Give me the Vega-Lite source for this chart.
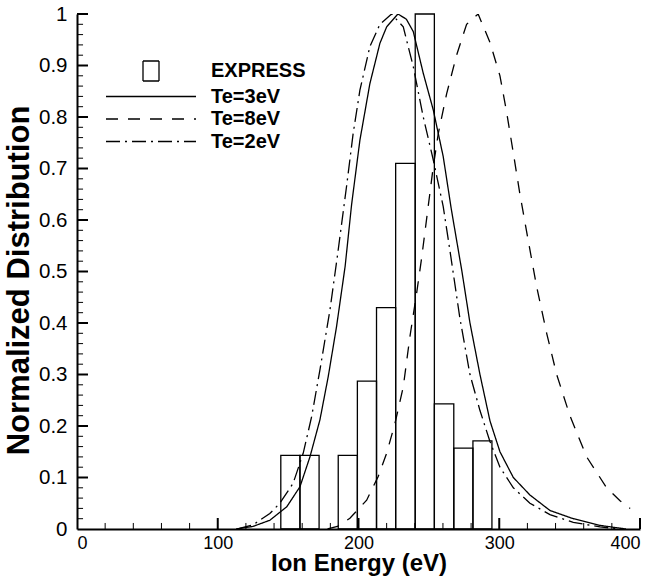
{
  "$schema": "https://vega.github.io/schema/vega-lite/v6.json",
  "width": 563,
  "height": 515,
  "autosize": {"type": "none"},
  "padding": {"left": 77, "top": 14, "right": 19, "bottom": 54},
  "background": "white",
  "config": {
    "view": {"stroke": null},
    "font": "Liberation Sans",
    "axis": {"grid": false, "domainColor": "black", "domainWidth": 2, "tickColor": "black", "labelColor": "black", "titleColor": "black", "labelFont": "Liberation Sans", "titleFont": "Liberation Sans"}
  },
  "datasets": {
    "curves": [
      {"series": "Te=3eV", "energy": 113, "value": 0},
      {"series": "Te=3eV", "energy": 125, "value": 0.005},
      {"series": "Te=3eV", "energy": 137, "value": 0.017},
      {"series": "Te=3eV", "energy": 149, "value": 0.043},
      {"series": "Te=3eV", "energy": 158.4, "value": 0.082},
      {"series": "Te=3eV", "energy": 165.5, "value": 0.14},
      {"series": "Te=3eV", "energy": 172.6, "value": 0.212},
      {"series": "Te=3eV", "energy": 178.5, "value": 0.296},
      {"series": "Te=3eV", "energy": 184.4, "value": 0.393},
      {"series": "Te=3eV", "energy": 190.5, "value": 0.51},
      {"series": "Te=3eV", "energy": 195.1, "value": 0.63},
      {"series": "Te=3eV", "energy": 201, "value": 0.755},
      {"series": "Te=3eV", "energy": 208.1, "value": 0.865},
      {"series": "Te=3eV", "energy": 215.2, "value": 0.943},
      {"series": "Te=3eV", "energy": 220, "value": 0.975},
      {"series": "Te=3eV", "energy": 228, "value": 1.0},
      {"series": "Te=3eV", "energy": 234, "value": 0.99},
      {"series": "Te=3eV", "energy": 238.9, "value": 0.966},
      {"series": "Te=3eV", "energy": 246, "value": 0.885},
      {"series": "Te=3eV", "energy": 253.1, "value": 0.814},
      {"series": "Te=3eV", "energy": 260.2, "value": 0.723},
      {"series": "Te=3eV", "energy": 266, "value": 0.62},
      {"series": "Te=3eV", "energy": 273.5, "value": 0.5},
      {"series": "Te=3eV", "energy": 279.2, "value": 0.4},
      {"series": "Te=3eV", "energy": 286.3, "value": 0.3},
      {"series": "Te=3eV", "energy": 293.4, "value": 0.21},
      {"series": "Te=3eV", "energy": 300.5, "value": 0.15},
      {"series": "Te=3eV", "energy": 310, "value": 0.1},
      {"series": "Te=3eV", "energy": 321.8, "value": 0.066},
      {"series": "Te=3eV", "energy": 336, "value": 0.036},
      {"series": "Te=3eV", "energy": 352.6, "value": 0.02},
      {"series": "Te=3eV", "energy": 371.6, "value": 0.007},
      {"series": "Te=3eV", "energy": 390, "value": 0},
      {"series": "Te=2eV", "energy": 114, "value": 0},
      {"series": "Te=2eV", "energy": 125, "value": 0.008},
      {"series": "Te=2eV", "energy": 137, "value": 0.03},
      {"series": "Te=2eV", "energy": 144.1, "value": 0.05},
      {"series": "Te=2eV", "energy": 153.6, "value": 0.089},
      {"series": "Te=2eV", "energy": 160.7, "value": 0.147},
      {"series": "Te=2eV", "energy": 166.7, "value": 0.218},
      {"series": "Te=2eV", "energy": 172.6, "value": 0.309},
      {"series": "Te=2eV", "energy": 179.7, "value": 0.425},
      {"series": "Te=2eV", "energy": 185, "value": 0.53},
      {"series": "Te=2eV", "energy": 191.5, "value": 0.665},
      {"series": "Te=2eV", "energy": 196.2, "value": 0.768},
      {"series": "Te=2eV", "energy": 201, "value": 0.852},
      {"series": "Te=2eV", "energy": 208.1, "value": 0.937},
      {"series": "Te=2eV", "energy": 215.2, "value": 0.98},
      {"series": "Te=2eV", "energy": 223.5, "value": 1.0},
      {"series": "Te=2eV", "energy": 231.8, "value": 0.975},
      {"series": "Te=2eV", "energy": 238.9, "value": 0.898},
      {"series": "Te=2eV", "energy": 246, "value": 0.8},
      {"series": "Te=2eV", "energy": 253.1, "value": 0.717},
      {"series": "Te=2eV", "energy": 260.2, "value": 0.626},
      {"series": "Te=2eV", "energy": 265, "value": 0.54},
      {"series": "Te=2eV", "energy": 272, "value": 0.41},
      {"series": "Te=2eV", "energy": 279.2, "value": 0.3},
      {"series": "Te=2eV", "energy": 286.3, "value": 0.23},
      {"series": "Te=2eV", "energy": 293.4, "value": 0.17},
      {"series": "Te=2eV", "energy": 300.5, "value": 0.12},
      {"series": "Te=2eV", "energy": 310, "value": 0.08},
      {"series": "Te=2eV", "energy": 321.8, "value": 0.05},
      {"series": "Te=2eV", "energy": 336, "value": 0.028},
      {"series": "Te=2eV", "energy": 352.6, "value": 0.013},
      {"series": "Te=2eV", "energy": 371.6, "value": 0.004},
      {"series": "Te=2eV", "energy": 386, "value": 0},
      {"series": "Te=8eV", "energy": 178, "value": 0},
      {"series": "Te=8eV", "energy": 185, "value": 0.005},
      {"series": "Te=8eV", "energy": 193.9, "value": 0.021},
      {"series": "Te=8eV", "energy": 205.8, "value": 0.056},
      {"series": "Te=8eV", "energy": 214, "value": 0.102},
      {"series": "Te=8eV", "energy": 220, "value": 0.147},
      {"series": "Te=8eV", "energy": 225.9, "value": 0.205},
      {"series": "Te=8eV", "energy": 231.8, "value": 0.276},
      {"series": "Te=8eV", "energy": 236.5, "value": 0.373},
      {"series": "Te=8eV", "energy": 241.3, "value": 0.458},
      {"series": "Te=8eV", "energy": 244.8, "value": 0.525},
      {"series": "Te=8eV", "energy": 249.5, "value": 0.626},
      {"series": "Te=8eV", "energy": 253.1, "value": 0.703},
      {"series": "Te=8eV", "energy": 256.7, "value": 0.768},
      {"series": "Te=8eV", "energy": 262.6, "value": 0.845},
      {"series": "Te=8eV", "energy": 269.7, "value": 0.92},
      {"series": "Te=8eV", "energy": 276.8, "value": 0.98},
      {"series": "Te=8eV", "energy": 285, "value": 1.0},
      {"series": "Te=8eV", "energy": 293.4, "value": 0.945},
      {"series": "Te=8eV", "energy": 300.5, "value": 0.88},
      {"series": "Te=8eV", "energy": 305.2, "value": 0.81},
      {"series": "Te=8eV", "energy": 310, "value": 0.73},
      {"series": "Te=8eV", "energy": 314.7, "value": 0.65},
      {"series": "Te=8eV", "energy": 320.6, "value": 0.56},
      {"series": "Te=8eV", "energy": 326.6, "value": 0.47},
      {"series": "Te=8eV", "energy": 333.7, "value": 0.38},
      {"series": "Te=8eV", "energy": 340.8, "value": 0.3},
      {"series": "Te=8eV", "energy": 350.2, "value": 0.22},
      {"series": "Te=8eV", "energy": 362.1, "value": 0.14},
      {"series": "Te=8eV", "energy": 376.3, "value": 0.08},
      {"series": "Te=8eV", "energy": 385.8, "value": 0.055},
      {"series": "Te=8eV", "energy": 393, "value": 0.04}
    ],
    "bars": [
      {"start": 144.8, "end": 158.4, "value": 0.143},
      {"start": 158.4, "end": 172.0, "value": 0.143},
      {"start": 185.6, "end": 199.2, "value": 0.143},
      {"start": 199.2, "end": 212.8, "value": 0.287},
      {"start": 212.8, "end": 226.4, "value": 0.43},
      {"start": 226.4, "end": 240.3, "value": 0.71},
      {"start": 240.3, "end": 253.9, "value": 1.0},
      {"start": 253.9, "end": 267.7, "value": 0.243},
      {"start": 267.7, "end": 281.3, "value": 0.157},
      {"start": 281.3, "end": 294.8, "value": 0.171}
    ],
    "xMajor": [{"tick": 100}, {"tick": 200}, {"tick": 300}, {"tick": 400}],
    "xMinor": [{"tick": 20}, {"tick": 40}, {"tick": 60}, {"tick": 80}, {"tick": 120}, {"tick": 140}, {"tick": 160}, {"tick": 180}, {"tick": 220}, {"tick": 240}, {"tick": 260}, {"tick": 280}, {"tick": 320}, {"tick": 340}, {"tick": 360}, {"tick": 380}],
    "yMajor": [{"tick": 0.1}, {"tick": 0.2}, {"tick": 0.3}, {"tick": 0.4}, {"tick": 0.5}, {"tick": 0.6}, {"tick": 0.7}, {"tick": 0.8}, {"tick": 0.9}, {"tick": 1}],
    "yMinor": [{"tick": 0.02}, {"tick": 0.04}, {"tick": 0.06}, {"tick": 0.08}, {"tick": 0.12}, {"tick": 0.14}, {"tick": 0.16}, {"tick": 0.18}, {"tick": 0.22}, {"tick": 0.24}, {"tick": 0.26}, {"tick": 0.28}, {"tick": 0.32}, {"tick": 0.34}, {"tick": 0.36}, {"tick": 0.38}, {"tick": 0.42}, {"tick": 0.44}, {"tick": 0.46}, {"tick": 0.48}, {"tick": 0.52}, {"tick": 0.54}, {"tick": 0.56}, {"tick": 0.58}, {"tick": 0.62}, {"tick": 0.64}, {"tick": 0.66}, {"tick": 0.68}, {"tick": 0.72}, {"tick": 0.74}, {"tick": 0.76}, {"tick": 0.78}, {"tick": 0.82}, {"tick": 0.84}, {"tick": 0.86}, {"tick": 0.88}, {"tick": 0.92}, {"tick": 0.94}, {"tick": 0.96}, {"tick": 0.98}]
  },
  "layer": [
    {
      "data": {"name": "curves"},
      "mark": {"type": "line", "color": "black", "strokeWidth": 1.3, "clip": true},
      "encoding": {
        "x": {
          "field": "energy", "type": "quantitative",
          "scale": {"domain": [0, 400], "nice": false},
          "axis": {
            "orient": "bottom",
            "title": "Ion Energy (eV)",
            "values": [0, 100, 200, 300, 400],
            "format": "d",
            "ticks": false,
            "labelOverlap": false,
            "labelFontSize": 18,
            "labelPadding": 5,
            "titleFontSize": 24,
            "titleFontWeight": "bold",
            "titleBaseline": "alphabetic",
            "titleY": 41
          }
        },
        "y": {
          "field": "value", "type": "quantitative",
          "scale": {"domain": [0, 1], "nice": false},
          "axis": {
            "orient": "left",
            "title": "Normalized Distribution",
            "values": [0, 0.1, 0.2, 0.3, 0.4, 0.5, 0.6, 0.7, 0.8, 0.9, 1],
            "format": "~g",
            "ticks": false,
            "labelOverlap": false,
            "labelFontSize": 20.5,
            "labelPadding": 10,
            "titleFontSize": 31,
            "titleFontWeight": "bold",
            "titleBaseline": "alphabetic",
            "titleX": -49,
            "titleY": 266,
            "titleAngle": -90
          }
        },
        "strokeDash": {
          "field": "series", "type": "nominal",
          "scale": {"domain": ["EXPRESS", "Te=3eV", "Te=8eV", "Te=2eV"], "range": [[1, 0], [1, 0], [12, 10], [14, 5, 2, 5]]},
          "legend": {
            "title": null,
            "orient": "none",
            "legendX": 63,
            "legendY": 46,
            "symbolType": "M-4.5,0H4.5",
            "symbolSize": 400,
            "symbolStrokeColor": "black",
            "symbolFillColor": "transparent",
            "symbolStrokeWidth": 1.3,
            "labelFont": "Liberation Sans",
            "labelFontSize": 20,
            "labelFontWeight": "bold",
            "labelColor": "black",
            "labelOffset": 49,
            "rowPadding": 1.5,
            "encode": {
              "symbols": {
                "update": {
                  "shape": {"signal": "datum.value === 'EXPRESS' ? 'M-0.8,-1H0.8V1H-0.8Z' : 'M-4.5,0H4.5'"},
                  "fill": {"value": "transparent"},
                  "stroke": {"value": "black"}
                }
              }
            }
          }
        }
      }
    },
    {
      "data": {"name": "bars"},
      "mark": {"type": "rect", "fill": "transparent", "stroke": "black", "strokeWidth": 1.3},
      "encoding": {
        "x": {"field": "start", "type": "quantitative", "title": "Ion Energy (eV)"},
        "x2": {"field": "end"},
        "y": {"field": "value", "type": "quantitative", "title": "Normalized Distribution"},
        "y2": {"datum": 0}
      }
    },
    {
      "data": {"name": "xMajor"},
      "mark": {"type": "rule", "color": "black", "strokeWidth": 2},
      "encoding": {
        "x": {"field": "tick", "type": "quantitative", "title": "Ion Energy (eV)"},
        "y": {"datum": 0, "type": "quantitative", "title": "Normalized Distribution"},
        "y2": {"datum": 0.0214}
      }
    },
    {
      "data": {"name": "xMinor"},
      "mark": {"type": "rule", "color": "black", "strokeWidth": 1},
      "encoding": {
        "x": {"field": "tick", "type": "quantitative", "title": "Ion Energy (eV)"},
        "y": {"datum": 0, "type": "quantitative", "title": "Normalized Distribution"},
        "y2": {"datum": 0.0117}
      }
    },
    {
      "data": {"name": "yMajor"},
      "mark": {"type": "rule", "color": "black", "strokeWidth": 2},
      "encoding": {
        "y": {"field": "tick", "type": "quantitative", "title": "Normalized Distribution"},
        "x": {"datum": 0, "type": "quantitative", "title": "Ion Energy (eV)"},
        "x2": {"datum": 7.8}
      }
    },
    {
      "data": {"name": "yMinor"},
      "mark": {"type": "rule", "color": "black", "strokeWidth": 1},
      "encoding": {
        "y": {"field": "tick", "type": "quantitative", "title": "Normalized Distribution"},
        "x": {"datum": 0, "type": "quantitative", "title": "Ion Energy (eV)"},
        "x2": {"datum": 4.3}
      }
    }
  ]
}
